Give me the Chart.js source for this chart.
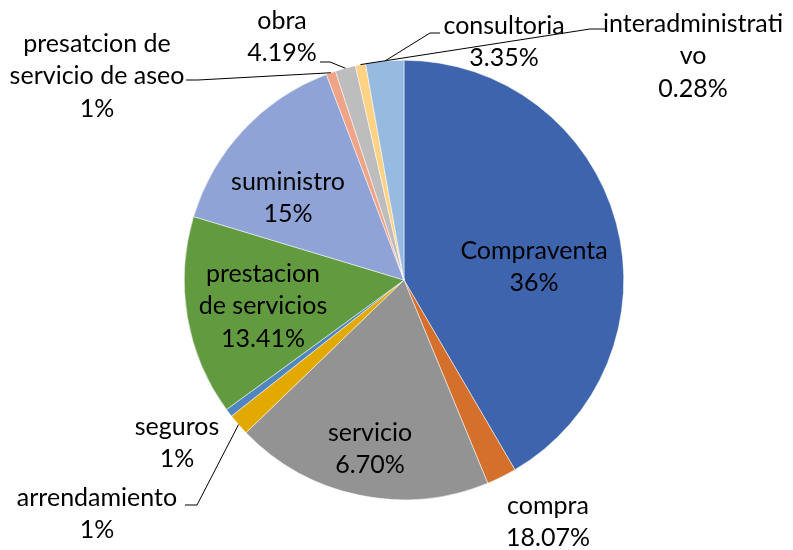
<!DOCTYPE html>
<html>
<head>
<meta charset="utf-8">
<script src="https://cdn.jsdelivr.net/npm/chart.js@4.4.0/dist/chart.umd.min.js"></script>
<style>
  html, body { margin: 0; padding: 0; background: #fff; }
</style>
</head>
<body>
<canvas id="pieChart" width="793" height="550"></canvas>
<script>
// slice data, clockwise from 12 o'clock
const categories = ['Compraventa', 'compra', 'servicio', 'arrendamiento', 'seguros',
  'prestacion de servicios', 'suministro', 'presatcion de servicio de aseo', 'obra',
  'interadministrativo', 'consultoria'];
const sliceValues = [41.6, 2.2, 19.0, 1.6, 0.6, 14.7, 14.6, 0.7, 1.5, 0.75, 2.8];
// the label texts exactly as printed on the chart
const labelLines = [
  ['Compraventa', '36%'],
  ['compra', '18.07%'],
  ['servicio', '6.70%'],
  ['arrendamiento', '1%'],
  ['seguros', '1%'],
  ['prestacion', 'de servicios', '13.41%'],
  ['suministro', '15%'],
  ['presatcion de', 'servicio de aseo', '1%'],
  ['obra', '4.19%'],
  ['interadministrati', 'vo', '0.28%'],
  ['consultoria', '3.35%']
];
const sliceColors = ['#3D64AD', '#D4702C', '#939393', '#E2AA00', '#4F86C0', '#629A3F',
  '#8FA3D6', '#EFA488', '#BDBDBD', '#FFD284', '#97BBE0'];

// label placement, offsets from pie centre in px
const labelOffsets = [
  [130, -13], [144, 242], [-34, 169], [-307, 234], [-227, 163], [-141, 26],
  [-116, -82], [-307, -204], [-122, -243], [289, -224], [100, -238]
];
// leader lines: slice index and bend points relative to centre
const leaders = [
  { slice: 3, pts: [[-207, 225], [-219, 225]] },
  { slice: 7, pts: [[-206, -200], [-218, -200]] },
  { slice: 8, pts: [[-74, -218], [-84, -218]] },
  { slice: 9, pts: [[186, -251], [203, -251]] },
  { slice: 10, pts: [[26, -247], [36, -247]] }
];
const lineH = 32.5;

const pieLabels = {
  id: 'pieLabels',
  afterDatasetsDraw(chart) {
    const ctx = chart.ctx;
    const arcs = chart.getDatasetMeta(0).data;
    const cx = arcs[0].x, cy = arcs[0].y;
    ctx.save();
    ctx.strokeStyle = '#000';
    ctx.lineWidth = 1;
    leaders.forEach(ld => {
      const a = arcs[ld.slice];
      const mid = (a.startAngle + a.endAngle) / 2;
      ctx.beginPath();
      ctx.moveTo(cx + Math.cos(mid) * a.outerRadius, cy + Math.sin(mid) * a.outerRadius);
      ld.pts.forEach(p => ctx.lineTo(cx + p[0], cy + p[1]));
      ctx.stroke();
    });
    ctx.font = '25px Lato';
    ctx.fillStyle = '#000';
    ctx.textAlign = 'center';
    ctx.textBaseline = 'middle';
    labelLines.forEach((lines, i) => {
      const [dx, dy] = labelOffsets[i];
      const top = cy + dy - (lines.length - 1) * lineH / 2;
      lines.forEach((t, k) => ctx.fillText(t, cx + dx, top + k * lineH));
    });
    ctx.restore();
  }
};

new Chart(document.getElementById('pieChart'), {
  type: 'pie',
  data: {
    labels: categories,
    datasets: [{
      data: sliceValues,
      backgroundColor: sliceColors,
      borderColor: '#ffffff',
      borderWidth: 0.5
    }]
  },
  options: {
    responsive: false,
    animation: false,
    layout: { padding: { left: 184, right: 169, top: 60, bottom: 50 } },
    plugins: {
      legend: { display: false },
      tooltip: { enabled: false }
    }
  },
  plugins: [pieLabels]
});
</script>
</body>
</html>
